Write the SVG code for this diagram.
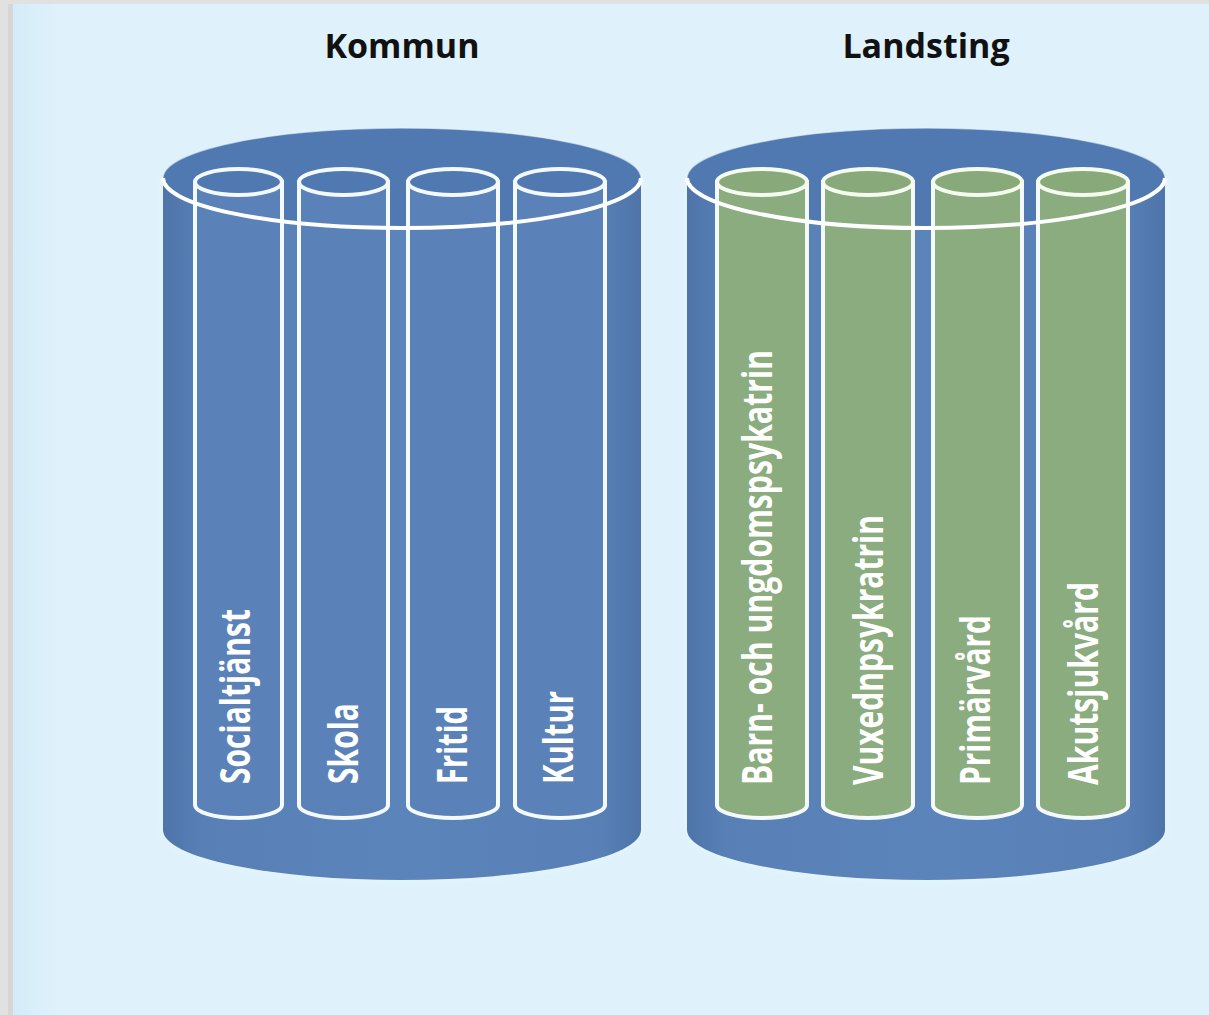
<svg xmlns="http://www.w3.org/2000/svg" width="1209" height="1015" viewBox="0 0 1209 1015">
  <defs>
    <linearGradient id="bodyBlue" x1="0" y1="0" x2="1" y2="0">
      <stop offset="0" stop-color="#4e74a9"/>
      <stop offset="0.08" stop-color="#5880b6"/>
      <stop offset="0.5" stop-color="#5b84ba"/>
      <stop offset="0.92" stop-color="#5880b6"/>
      <stop offset="1" stop-color="#4e74a9"/>
    </linearGradient>
    <linearGradient id="edge" x1="0" y1="0" x2="1" y2="0">
      <stop offset="0" stop-color="#d4ecfa"/>
      <stop offset="1" stop-color="#dff2fb"/>
    </linearGradient>
    <filter id="glow" x="-10%" y="-10%" width="120%" height="120%">
      <feGaussianBlur stdDeviation="3"/>
    </filter>
  </defs>
  <style>
    .title { font-family: "Open Sans", "Liberation Sans", sans-serif; font-weight: 700; font-size: 34px; fill: #111111; text-anchor: middle; }
    .lbl { font-family: "Open Sans", "Liberation Sans", sans-serif; font-weight: 700; font-size: 42px; fill: #ffffff; }
    .big { fill: url(#bodyBlue); }
    .bigtop { fill: #5079b2; }
    .arc { fill: none; stroke: #ffffff; stroke-width: 4; }
    .tube { stroke: #f4f9fd; stroke-width: 4; }
    .blue { fill: #5a82b8; }
    .green { fill: #8aac7e; }
    .bluetop { fill: #5079b1; stroke: #f4f9fd; stroke-width: 4; }
    .greentop { fill: #88a979; stroke: #f6fbf0; stroke-width: 4; }
  </style>

  <!-- background -->
  <rect x="0" y="0" width="1209" height="1015" fill="#e1e1e1"/>
  <rect x="8" y="4" width="5" height="1011" fill="#d6d6d6"/>
  <rect x="13" y="4" width="1196" height="1011" fill="#dff2fb"/>
  <rect x="13" y="4" width="45" height="1011" fill="url(#edge)"/>

  <!-- titles -->
  <g id="title-kommun"><text class="title" x="402" y="58">Kommun</text></g>
  <g id="title-landsting"><text class="title" x="926" y="58">Landsting</text></g>

  <!-- Kommun cylinder -->
  <g id="kommun">
    <path d="M163,178 L163,830 A239,50 0 0 0 641,830 L641,178 Z" fill="#eef8fd" filter="url(#glow)" opacity="0.7"/>
    <path class="big" d="M163,178 L163,830 A239,50 0 0 0 641,830 L641,178 Z"/>
    <ellipse class="bigtop" cx="402" cy="178" rx="239" ry="50"/>
    <path d="M163,178 A239,50 0 0 1 641,178" fill="none" stroke="#e6f3fb" stroke-width="1.5" opacity="0.6"/>
  </g>

  <g id="tube-socialtjanst">
    <path class="tube blue" d="M195,182 L195,805 A43.5,13 0 0 0 282,805 L282,182 Z"/>
    <ellipse class="bluetop" cx="238.5" cy="182" rx="43.5" ry="13"/>
    <text class="lbl" transform="translate(250,784) rotate(-90)" textLength="175" lengthAdjust="spacingAndGlyphs">Socialtjänst</text>
  </g>
  <g id="tube-skola">
    <path class="tube blue" d="M299,182 L299,805 A44.5,13 0 0 0 388,805 L388,182 Z"/>
    <ellipse class="bluetop" cx="343.5" cy="182" rx="44.5" ry="13"/>
    <text class="lbl" transform="translate(358,784) rotate(-90)" textLength="81" lengthAdjust="spacingAndGlyphs">Skola</text>
  </g>
  <g id="tube-fritid">
    <path class="tube blue" d="M408,182 L408,805 A45,13 0 0 0 498,805 L498,182 Z"/>
    <ellipse class="bluetop" cx="453" cy="182" rx="45" ry="13"/>
    <text class="lbl" transform="translate(467,784) rotate(-90)" textLength="78" lengthAdjust="spacingAndGlyphs">Fritid</text>
  </g>
  <g id="tube-kultur">
    <path class="tube blue" d="M515,182 L515,805 A45,13 0 0 0 605,805 L605,182 Z"/>
    <ellipse class="bluetop" cx="560" cy="182" rx="45" ry="13"/>
    <text class="lbl" transform="translate(573,784) rotate(-90)" textLength="93" lengthAdjust="spacingAndGlyphs">Kultur</text>
  </g>
  <g id="kommun-rim">
    <path class="arc" d="M163,178 A239,50 0 0 0 641,178"/>
  </g>

  <!-- Landsting cylinder -->
  <g id="landsting">
    <path d="M687,178 L687,830 A239,50 0 0 0 1165,830 L1165,178 Z" fill="#eef8fd" filter="url(#glow)" opacity="0.7"/>
    <path class="big" d="M687,178 L687,830 A239,50 0 0 0 1165,830 L1165,178 Z"/>
    <ellipse class="bigtop" cx="926" cy="178" rx="239" ry="50"/>
    <path d="M687,178 A239,50 0 0 1 1165,178" fill="none" stroke="#e6f3fb" stroke-width="1.5" opacity="0.6"/>
  </g>

  <g id="tube-barn">
    <path class="tube green" d="M717,182 L717,805 A45,13 0 0 0 807,805 L807,182 Z"/>
    <ellipse class="greentop" cx="762" cy="182" rx="45" ry="13"/>
    <text class="lbl" transform="translate(772,785) rotate(-90)" textLength="435" lengthAdjust="spacingAndGlyphs">Barn- och ungdomspsykatrin</text>
  </g>
  <g id="tube-vuxen">
    <path class="tube green" d="M823,182 L823,805 A45,13 0 0 0 913,805 L913,182 Z"/>
    <ellipse class="greentop" cx="868" cy="182" rx="45" ry="13"/>
    <text class="lbl" transform="translate(883,785) rotate(-90)" textLength="270" lengthAdjust="spacingAndGlyphs">Vuxednpsykratrin</text>
  </g>
  <g id="tube-primarvard">
    <path class="tube green" d="M933,182 L933,805 A44.5,13 0 0 0 1022,805 L1022,182 Z"/>
    <ellipse class="greentop" cx="977.5" cy="182" rx="44.5" ry="13"/>
    <text class="lbl" transform="translate(990,785) rotate(-90)" textLength="170" lengthAdjust="spacingAndGlyphs">Primärvård</text>
  </g>
  <g id="tube-akut">
    <path class="tube green" d="M1038,182 L1038,805 A45,13 0 0 0 1128,805 L1128,182 Z"/>
    <ellipse class="greentop" cx="1083" cy="182" rx="45" ry="13"/>
    <text class="lbl" transform="translate(1098,785) rotate(-90)" textLength="203" lengthAdjust="spacingAndGlyphs">Akutsjukvård</text>
  </g>
  <g id="landsting-rim">
    <path class="arc" d="M687,178 A239,50 0 0 0 1165,178"/>
  </g>

  <g id="connectors"></g>
</svg>
